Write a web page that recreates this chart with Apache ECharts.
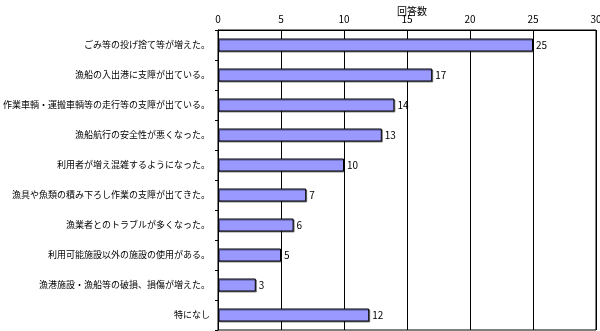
<!DOCTYPE html>
<html><head><meta charset="utf-8">
<script src="https://cdn.jsdelivr.net/npm/echarts@6/dist/echarts.min.js"></script>
<style>html,body{margin:0;padding:0;background:#fff}#c{width:600px;height:331px}</style>
</head><body><div id="c"></div>
<script>
const categories = [
  'ごみ等の投げ捨て等が増えた。',
  '漁船の入出港に支障が出ている。',
  '作業車輌・運搬車輌等の走行等の支障が出ている。',
  '漁船航行の安全性が悪くなった。',
  '利用者が増え混雑するようになった。',
  '漁具や魚類の積み下ろし作業の支障が出てきた。',
  '漁業者とのトラブルが多くなった。',
  '利用可能施設以外の施設の使用がある。',
  '漁港施設・漁船等の破損、損傷が増えた。',
  '特になし'
];
const values = [25, 17, 14, 13, 10, 7, 6, 5, 3, 12];
const axisTitle = '回答数';
const font = '"Noto Sans CJK JP", sans-serif';
const chart = echarts.init(document.getElementById('c'));
chart.setOption({
  animation: false,
  title: {text: axisTitle, left: 407, top: 1, textAlign: 'center',
    textStyle: {fontSize: 10, fontWeight: 'normal', color: '#000', fontFamily: font}},
  grid: {left: 218, right: 4, top: 30, bottom: 1, outerBoundsMode: 'none',
    show: true, borderColor: '#000', borderWidth: 1},
  xAxis: {type: 'value', position: 'top', min: 0, max: 30, interval: 5,
    axisLine: {show: true, lineStyle: {color: '#000'}},
    axisTick: {show: false},
    axisLabel: {fontSize: 10, color: '#000', fontFamily: font, margin: 6},
    splitLine: {show: true, lineStyle: {color: '#000', width: 1}}},
  yAxis: {type: 'category', data: categories, inverse: true,
    axisLine: {show: true, lineStyle: {color: '#000'}},
    axisTick: {show: true, inside: false, length: 3, alignWithLabel: false, lineStyle: {color: '#000'}},
    axisLabel: {fontSize: 9, color: '#000', fontFamily: font, margin: 8}},
  series: [{type: 'bar', data: values, barWidth: 13,
    itemStyle: {color: '#9999FF', borderColor: '#000', borderWidth: 1,
      shadowColor: 'rgba(0,0,0,0.45)', shadowOffsetX: 1, shadowOffsetY: 1},
    label: {show: true, position: 'right', distance: 3, fontSize: 10, color: '#000', fontFamily: font}}]
});
</script></body></html>
